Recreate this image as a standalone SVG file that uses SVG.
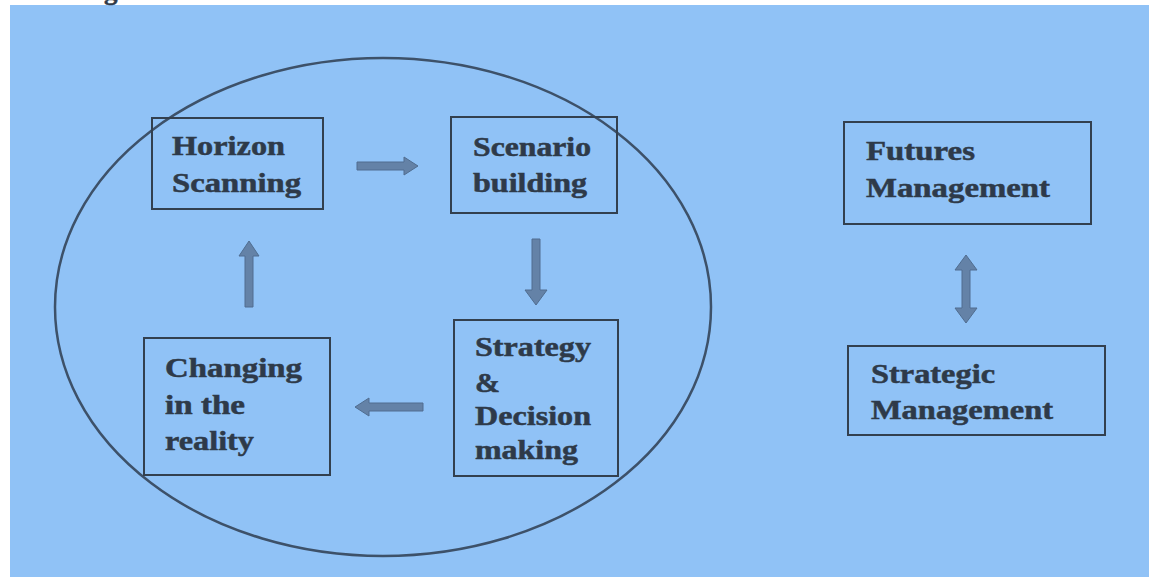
<svg xmlns="http://www.w3.org/2000/svg" width="1149" height="577" viewBox="0 0 1149 577">
<style>
.box{fill:none;stroke:#33404f;stroke-width:2}
.t{font-family:"Liberation Serif","Times New Roman",serif;font-weight:bold;font-size:27px;fill:#2e3a49;stroke:#2e3a49;stroke-width:0.5}
.arr{fill:#6482a7;stroke:#506d90;stroke-width:1}
</style>
<rect x="0" y="0" width="1149" height="577" fill="#ffffff"/>
<rect x="10" y="5" width="1139" height="572" fill="#90c2f6"/>
<text class="t" x="104" y="-1">g</text>
<ellipse cx="383" cy="307" rx="328" ry="249" fill="none" stroke="#3d5169" stroke-width="2.5"/>
<g id="horizon">
<rect class="box" x="152" y="118" width="171" height="91"/>
<text class="t" x="172" y="155" textLength="113" lengthAdjust="spacingAndGlyphs">Horizon</text>
<text class="t" x="172" y="192" textLength="129" lengthAdjust="spacingAndGlyphs">Scanning</text>
</g>
<g id="scenario">
<rect class="box" x="451" y="117" width="166" height="96"/>
<text class="t" x="473" y="156" textLength="118" lengthAdjust="spacingAndGlyphs">Scenario</text>
<text class="t" x="473" y="192" textLength="114" lengthAdjust="spacingAndGlyphs">building</text>
</g>
<g id="strategy">
<rect class="box" x="454" y="320" width="164" height="156"/>
<text class="t" x="475" y="356" textLength="116" lengthAdjust="spacingAndGlyphs">Strategy</text>
<text class="t" x="475" y="392" textLength="25" lengthAdjust="spacingAndGlyphs">&amp;</text>
<text class="t" x="475" y="425" textLength="116" lengthAdjust="spacingAndGlyphs">Decision</text>
<text class="t" x="475" y="459" textLength="103" lengthAdjust="spacingAndGlyphs">making</text>
</g>
<g id="changing">
<rect class="box" x="144" y="338" width="186" height="137"/>
<text class="t" x="165" y="377" textLength="137" lengthAdjust="spacingAndGlyphs">Changing</text>
<text class="t" x="165" y="414" textLength="80" lengthAdjust="spacingAndGlyphs">in the</text>
<text class="t" x="165" y="450" textLength="89" lengthAdjust="spacingAndGlyphs">reality</text>
</g>
<g id="futures">
<rect class="box" x="844" y="122" width="247" height="102"/>
<text class="t" x="866" y="160" textLength="109" lengthAdjust="spacingAndGlyphs">Futures</text>
<text class="t" x="866" y="197" textLength="184" lengthAdjust="spacingAndGlyphs">Management</text>
</g>
<g id="strategic">
<rect class="box" x="848" y="346" width="257" height="89"/>
<text class="t" x="871" y="383" textLength="124" lengthAdjust="spacingAndGlyphs">Strategic</text>
<text class="t" x="871" y="419" textLength="182" lengthAdjust="spacingAndGlyphs">Management</text>
</g>
<g id="connectors">
<path class="arr" d="M357 162 L404 162 L404 157 L418 166 L404 175 L404 170 L357 170 Z"/>
<path class="arr" d="M532 239 L540 239 L540 290 L547 290 L536 305 L525 290 L532 290 Z"/>
<path class="arr" d="M423 403 L423 411 L369 411 L369 416 L355 407 L369 398 L369 403 Z"/>
<path class="arr" d="M245 307 L253 307 L253 256 L259 256 L249 241 L239 256 L245 256 Z"/>
<path class="arr" d="M966 255 L977 270 L970 270 L970 308 L977 308 L966 323 L955 308 L962 308 L962 270 L955 270 Z"/>
</g>
</svg>
